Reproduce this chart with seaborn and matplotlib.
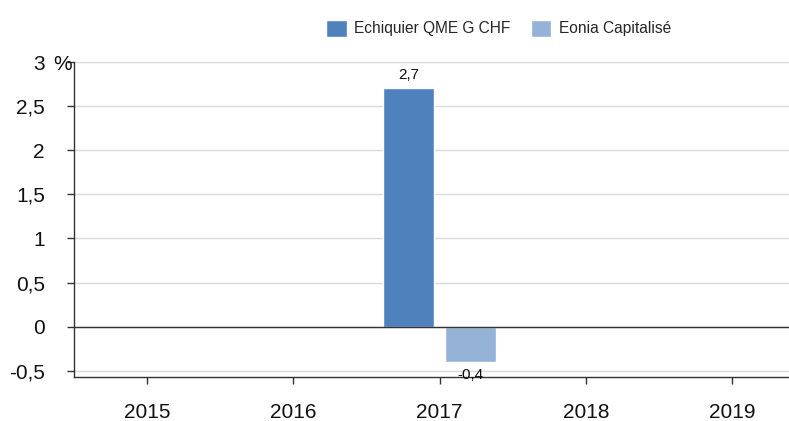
import matplotlib
matplotlib.use("Agg")
import matplotlib.pyplot as plt
import seaborn as sns
import pandas as pd
import numpy as np
from matplotlib.ticker import FuncFormatter, MultipleLocator

years = ["2015", "2016", "2017", "2018", "2019"]
fund = [np.nan, np.nan, 2.7, np.nan, np.nan]
bench = [np.nan, np.nan, -0.4, np.nan, np.nan]
series_names = ["Echiquier QME G CHF", "Eonia Capitalisé"]
colors = ["#4F81BD", "#95B3D7"]

df = pd.DataFrame({
    "year": years * 2,
    "value": fund + bench,
    "series": [series_names[0]] * len(years) + [series_names[1]] * len(years),
})

sns.set_theme(style="white")
plt.rcParams["font.family"] = ["Liberation Sans", "DejaVu Sans"]

fig = plt.figure(figsize=(7.89, 4.21), dpi=100)
ax = fig.add_axes([74 / 789, 1 - 377 / 421, 1 - 74 / 789, (377 - 62) / 421])

sns.barplot(data=df, x="year", y="value", hue="series", palette=colors,
            width=0.85, gap=0.19, ax=ax, legend=True, zorder=3, saturation=1)

ax.set_xlim(-0.5, 4.39)
ax.set_ylim(-0.57, 3.0)
ax.yaxis.set_major_locator(MultipleLocator(0.5))

def fmt(v, pos):
    return ("%g" % round(v, 2)).replace(".", ",")
ax.yaxis.set_major_formatter(FuncFormatter(fmt))

ax.annotate("%", xy=(0, 3.0), xycoords=("axes fraction", "data"),
            xytext=(-1.5, 0), textcoords="offset points", ha="right",
            va="center_baseline", fontsize=15, color="#111111")

ax.grid(axis="y", color="#d9d9d9", linewidth=1, zorder=0)
ax.axhline(0, color="#333333", linewidth=1, zorder=4)

for side in ["top", "right"]:
    ax.spines[side].set_visible(False)
for side in ["left", "bottom"]:
    ax.spines[side].set_color("#333333")
    ax.spines[side].set_linewidth(1)

ax.tick_params(axis="both", which="both", direction="out", length=5, width=1,
               color="#333333", labelsize=15, labelcolor="#111111")
ax.tick_params(axis="y", pad=16)
ax.tick_params(axis="x", pad=14)
ax.tick_params(left=True, bottom=True)
ax.set_xlabel("")
ax.set_ylabel("")

for cont in ax.containers:
    labels = []
    pad = 5
    for b in cont:
        h = b.get_height()
        if np.isnan(h):
            labels.append("")
        else:
            labels.append(("%g" % h).replace(".", ","))
            pad = 5 if h >= 0 else 4
    ax.bar_label(cont, labels=labels, padding=pad, fontsize=11,
                 color="#111111", zorder=6)

leg = ax.get_legend()
handles = leg.legend_handles
leg.remove()
fig.legend(handles, series_names, loc="center", bbox_to_anchor=(0.632, 0.933),
           ncol=2, frameon=False, fontsize=11.2, handlelength=1.3,
           handleheight=1.3, handletextpad=0.5, columnspacing=1.3)

fig.savefig("out.png", dpi=100)
